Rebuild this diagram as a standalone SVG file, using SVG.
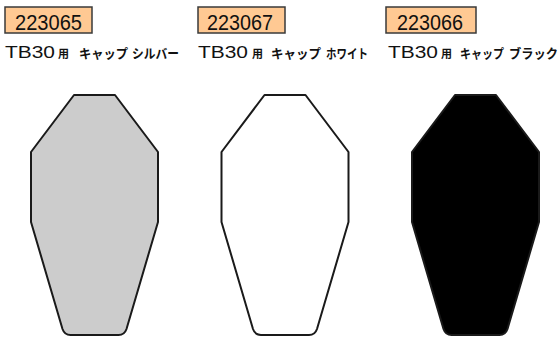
<svg xmlns="http://www.w3.org/2000/svg" xmlns:xlink="http://www.w3.org/1999/xlink" width="560" height="338" viewBox="0 0 560 338">
<style>
.code{fill:#FFC993;stroke:#3a3a3a;stroke-width:1.5}
.codet{font-family:"Liberation Sans",Arial,sans-serif;font-size:22px;fill:#111}
.lbl{font-family:"Liberation Sans","Noto Sans CJK JP",sans-serif;fill:#111}
.tb{font-size:17px}
.yo{font-size:11.5px;font-family:"Noto Sans CJK JP",sans-serif;font-weight:bold}
.kt{font-size:13px;font-family:"Noto Sans CJK JP",sans-serif;font-weight:bold}
.cap{stroke:#1a1a1a;stroke-width:2;stroke-linejoin:round}
</style>
<defs>
<path id="capShape" d="M-20.5,95 L20.5,95 L63.5,152 L63.5,222 L32,329 Q30,335 24,335 L-24,335 Q-30,335 -32,329 L-63.5,222 L-63.5,152 Z"/>
</defs>
<rect width="560" height="338" fill="#fff"/>
<g id="silver">
<rect class="code" x="5" y="7" width="87" height="26"/>
<text class="codet" x="15" y="30" textLength="67" lengthAdjust="spacingAndGlyphs">223065</text>
<text class="lbl" y="58"><tspan class="tb" x="5" textLength="50" lengthAdjust="spacingAndGlyphs">TB30</tspan><tspan class="yo" x="58" textLength="11" lengthAdjust="spacingAndGlyphs">用</tspan><tspan class="kt" x="79" textLength="49" lengthAdjust="spacingAndGlyphs">キャップ</tspan><tspan class="kt" x="132" textLength="47" lengthAdjust="spacingAndGlyphs">シルバー</tspan></text>
<use xlink:href="#capShape" class="cap" fill="#cccccc" transform="translate(94.5,0)"/>
</g>
<g id="white">
<rect class="code" x="198" y="7" width="87" height="26"/>
<text class="codet" x="207" y="30" textLength="66" lengthAdjust="spacingAndGlyphs">223067</text>
<text class="lbl" y="58"><tspan class="tb" x="198" textLength="50" lengthAdjust="spacingAndGlyphs">TB30</tspan><tspan class="yo" x="252" textLength="11" lengthAdjust="spacingAndGlyphs">用</tspan><tspan class="kt" x="271" textLength="50" lengthAdjust="spacingAndGlyphs">キャップ</tspan><tspan class="kt" x="326" textLength="42" lengthAdjust="spacingAndGlyphs">ホワイト</tspan></text>
<use xlink:href="#capShape" class="cap" fill="#ffffff" transform="translate(285,0)"/>
</g>
<g id="black">
<rect class="code" x="386" y="7" width="90" height="26"/>
<text class="codet" x="397" y="30" textLength="66" lengthAdjust="spacingAndGlyphs">223066</text>
<text class="lbl" y="58"><tspan class="tb" x="388" textLength="50" lengthAdjust="spacingAndGlyphs">TB30</tspan><tspan class="yo" x="441" textLength="11" lengthAdjust="spacingAndGlyphs">用</tspan><tspan class="kt" x="460" textLength="44" lengthAdjust="spacingAndGlyphs">キャップ</tspan><tspan class="kt" x="509" textLength="49" lengthAdjust="spacingAndGlyphs">ブラック</tspan></text>
<use xlink:href="#capShape" class="cap" fill="#000000" stroke="#000" transform="translate(475.5,0)"/>
</g>
<g id="connectors"/>
</svg>
